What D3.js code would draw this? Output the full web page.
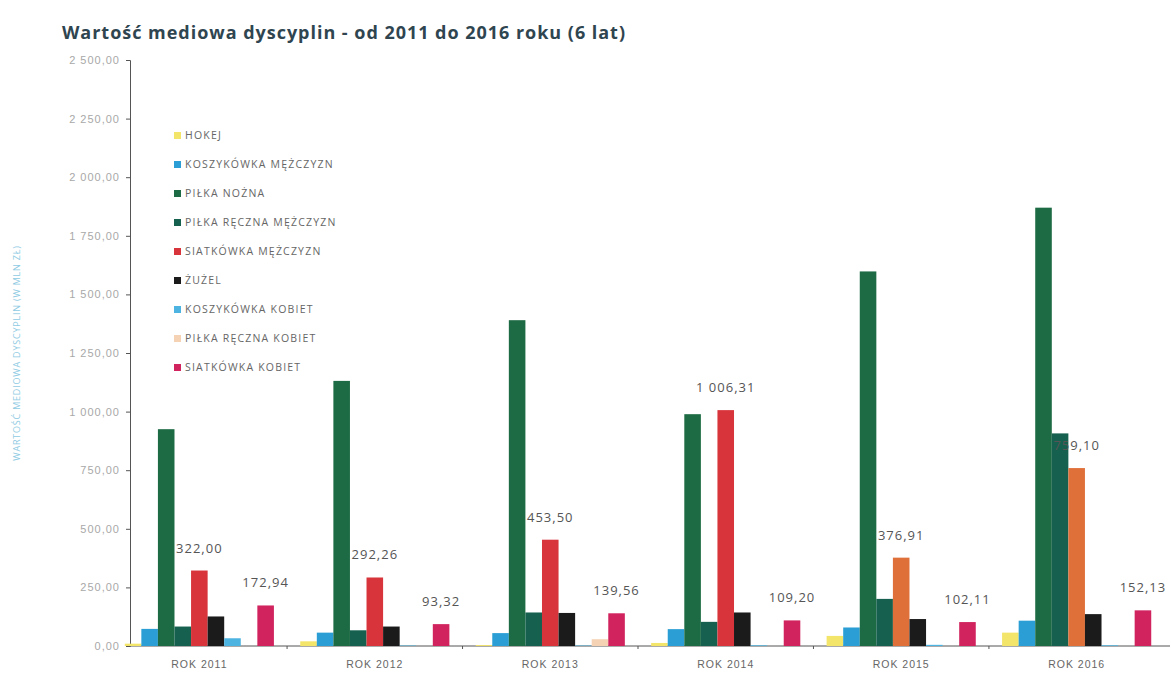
<!DOCTYPE html>
<html lang="pl">
<head>
    <meta charset="UTF-8">
    <title>Wartość mediowa dyscyplin</title>
    <script src="https://d3js.org/d3.v7.min.js"></script>
    <style>
        body {margin: 0; background: #fff;}
        svg {font-family: "Open Sans", "DejaVu Sans", sans-serif;}
        .title {font-size: 18px; font-weight: bold; fill: #2f4550;}
        .axis path, .axis line {stroke: #555;}
        .y-axis text {fill: #a8a8a8; font-size: 11px; letter-spacing: 1px;}
        .x-axis text {fill: #666; font-size: 10.5px; letter-spacing: 1px;}
        .legend text {fill: #666; font-size: 10.5px; letter-spacing: 1.2px;}
        .val {fill: #555; font-size: 13px; letter-spacing: 1px;}
    </style>
</head>
<body>
<script>
    const width  = 1174;
    const height = 691;

    const years = ["ROK 2011", "ROK 2012", "ROK 2013", "ROK 2014", "ROK 2015", "ROK 2016"];
    const series = ["HOKEJ", "KOSZYKÓWKA MĘŻCZYZN", "PIŁKA NOŻNA", "PIŁKA RĘCZNA MĘŻCZYZN",
                    "SIATKÓWKA MĘŻCZYZN", "ŻUŻEL", "KOSZYKÓWKA KOBIET", "PIŁKA RĘCZNA KOBIET", "SIATKÓWKA KOBIET"];

    const hokej        = [10, 20, 4, 13, 43, 57];
    const koszM        = [73, 57, 55, 72, 79, 108];
    const nozna        = [925, 1131, 1390, 989, 1598, 1870];
    const recznaM      = [83, 67, 143, 103, 201, 907];
    const siatM        = [322.00, 292.26, 453.50, 1006.31, 376.91, 759.10];
    const zuzel        = [126, 83, 141, 143, 115, 136];
    const koszK        = [33, 2, 2, 3, 5, 3];
    const recznaK      = [0, 0, 29, 0, 0, 0];
    const siatK        = [172.94, 93.32, 139.56, 109.20, 102.11, 152.13];

    const values = [hokej, koszM, nozna, recznaM, siatM, zuzel, koszK, recznaK, siatK];
    const labelled = ["SIATKÓWKA MĘŻCZYZN", "SIATKÓWKA KOBIET"];
    const yTicks = [0, 250, 500, 750, 1000, 1250, 1500, 1750, 2000, 2250, 2500];

    const colors = ["#f3e46a", "#2b9fd5", "#1d6b44", "#15604f", "#d8343b", "#1b1b1b", "#4db4e2", "#f6d2b5", "#d1245f"];
    const siatMLate = "#e0703a"; // 2015-2016 bars are orange in the source

    const pl = d3.formatLocale({decimal: ",", thousands: " ", grouping: [3], currency: ["", ""]});
    const fmt = pl.format(",.2f");

    const svg = d3.select("body").append("svg").attr("width", width).attr("height", height);

    svg.append("text").attr("class", "title")
        .attr("x", 62).attr("y", 39)
        .attr("textLength", 563).attr("lengthAdjust", "spacing")
        .text("Wartość mediowa  dyscyplin  - od 2011 do 2016 roku (6 lat)");

    const x0 = d3.scaleBand().domain(years).range([116, 1160]).paddingInner(0.15).paddingOuter(0.05);
    const x1 = d3.scaleBand().domain(series).range([0, x0.bandwidth()]);
    const y  = d3.scaleLinear().domain([0, 2500]).range([646, 60]);

    const yAxis = d3.axisLeft(y).tickValues(yTicks).tickFormat(fmt).tickSizeOuter(0).tickSize(4);
    svg.append("g").attr("class", "axis y-axis")
        .attr("transform", "translate(130,0)")
        .call(yAxis)
        .call(g => g.selectAll(".tick text").attr("x", -10));

    const xAxis = d3.axisBottom(x0).tickSize(0).tickSizeOuter(0);
    const xg = svg.append("g").attr("class", "axis x-axis")
        .attr("transform", "translate(0," + y(0) + ")")
        .call(xAxis);
    xg.select(".domain").attr("d", "M130,0H1170");
    xg.selectAll(".tick text").attr("dy", "1.8em");
    // small separators between groups
    xg.selectAll(".sep").data(years.slice(1)).join("line")
        .attr("x1", d => x0(d) - x0.step() * x0.paddingInner() / 2)
        .attr("x2", d => x0(d) - x0.step() * x0.paddingInner() / 2)
        .attr("y1", 0).attr("y2", 3).attr("stroke", "#555");

    svg.append("text")
        .attr("transform", "translate(20," + y(1250) + ") rotate(-90)")
        .attr("text-anchor", "middle")
        .style("font-size", "9px").style("fill", "#8fcbe3").style("letter-spacing", "0.8px")
        .text("WARTOŚĆ MEDIOWA DYSCYPLIN (W MLN ZŁ)");

    const groups = svg.append("g").selectAll("g").data(years).join("g")
        .attr("transform", d => "translate(" + x0(d) + ",0)");

    groups.selectAll("rect")
        .data((yr, i) => series.map((s, j) => ({s, j, i, v: values[j][i]})))
        .join("rect")
        .attr("x", d => x1(d.s))
        .attr("width", x1.bandwidth())
        .attr("y", d => y(d.v))
        .attr("height", d => y(0) - y(d.v))
        .attr("fill", d => (d.s === "SIATKÓWKA MĘŻCZYZN" && d.i >= 4) ? siatMLate : colors[d.j]);

    groups.selectAll("text.val")
        .data((yr, i) => labelled.map(s => ({s, v: values[series.indexOf(s)][i]})))
        .join("text")
        .attr("class", "val")
        .attr("x", d => x1(d.s) + x1.bandwidth() / 2)
        .attr("y", d => y(d.v) - 18)
        .attr("text-anchor", "middle")
        .text(d => fmt(d.v));

    const legend = svg.append("g").attr("class", "legend")
        .selectAll("g").data(series).join("g")
        .attr("transform", (d, i) => "translate(174," + (135 + i * 29) + ")");
    legend.append("rect")
        .attr("width", 7).attr("height", 7).attr("y", -3)
        .attr("fill", (d, i) => colors[i]);
    legend.append("text").attr("x", 11).attr("y", 4).text(d => d);
</script>
</body>
</html>
